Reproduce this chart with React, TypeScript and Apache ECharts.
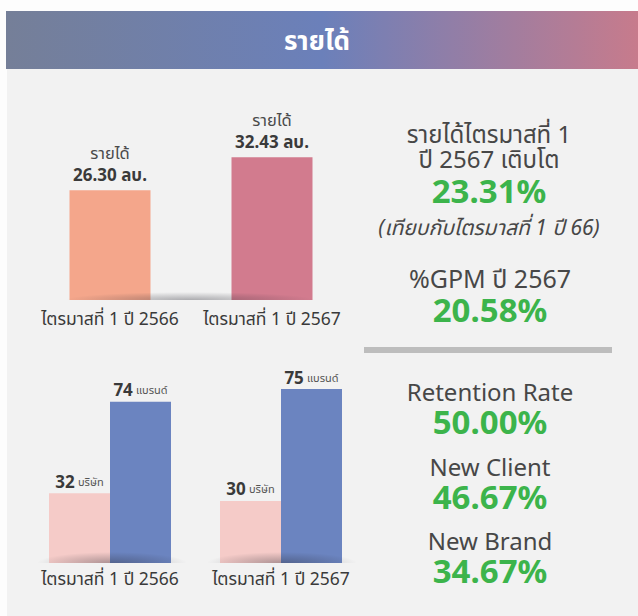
import React, { useEffect, useRef } from "react";
import * as echarts from "echarts";

const headerTitle = "รายได้";
const revenueCategories = ["ไตรมาสที่ 1 ปี 2566", "ไตรมาสที่ 1 ปี 2567"];
const revenueValues = [26.3, 32.43];
const revenueColors = ["#f4a68b", "#d27b8e"];
const revenueLabelTitle = "รายได้";
const revenueUnit = "ลบ.";

const clientQuarters = ["ไตรมาสที่ 1 ปี 2566", "ไตรมาสที่ 1 ปี 2567"];
const clientCounts = [32, 30];
const brandCounts = [74, 75];
const clientUnit = "บริษัท";
const brandUnit = "แบรนด์";

const growthLines = ["รายได้ไตรมาสที่ 1", "ปี 2567 เติบโต"];
const growthValue = "23.31%";
const growthNote = "(เทียบกับไตรมาสที่ 1 ปี 66)";
const gpmTitle = "%GPM ปี 2567";
const gpmValue = "20.58%";
const kpiTitles = ["Retention Rate", "New Client", "New Brand"];
const kpiValues = ["50.00%", "46.67%", "34.67%"];

const FONT = "'Noto Sans', 'Noto Sans Thai', sans-serif";
const GREEN = "#3cb44b";
const TEXT = "#474747";

function shadow(cx: number, baseY: number, w: number, h: number, alpha: number) {
  const size = w;
  return {
    type: "rect",
    x: cx - w / 2,
    y: baseY - h,
    scaleY: h / size,
    z: 50,
    silent: true,
    shape: { x: 0, y: 0, width: w, height: size },
    style: {
      fill: {
        type: "radial",
        x: 0.5,
        y: 1,
        r: 0.5,
        colorStops: [
          { offset: 0, color: `rgba(40,40,50,${alpha})` },
          { offset: 1, color: "rgba(40,40,50,0)" },
        ],
      },
    },
  };
}

const richStyles = {
  t: { fontSize: 24, fill: TEXT, fontFamily: FONT, lineHeight: 25, align: "center" },
  t2: { fontSize: 25, fill: TEXT, fontFamily: FONT, lineHeight: 30, align: "center" },
  k: { fontSize: 24, fill: TEXT, fontFamily: FONT, lineHeight: 28, align: "center" },
  g: { fontSize: 33, fill: GREEN, fontWeight: "bold", fontFamily: FONT, lineHeight: 39, align: "center" },
  v: { fontSize: 33, fill: GREEN, fontWeight: "bold", fontFamily: FONT, lineHeight: 32, align: "center" },
  n: { fontSize: 21, fill: TEXT, fontStyle: "italic", fontFamily: FONT, lineHeight: 35, align: "center" },
};

function block(text: string, x: number, top: number) {
  return {
    type: "text",
    x,
    y: top,
    z: 60,
    style: {
      text,
      rich: richStyles,
      textAlign: "center",
      textVerticalAlign: "top",
    },
  };
}

export default function App() {
  const ref = useRef<HTMLDivElement>(null);
  useEffect(() => {
    const chart = echarts.init(ref.current!, null, { renderer: "svg" });
    const catAxis = (gridIndex: number, data: string[], margin: number) => ({
      type: "category",
      gridIndex,
      data,
      axisLine: { show: false },
      axisTick: { show: false },
      axisLabel: { color: "#3a3a3a", fontSize: 17.5, fontFamily: FONT, margin, interval: 0 },
    });
    const valAxis = (gridIndex: number, min: number, max: number) => ({
      type: "value",
      gridIndex,
      min,
      max,
      show: false,
      splitLine: { show: false },
    });
    const countLabel = (unit: string) => ({
      show: true,
      position: "top",
      distance: 2,
      formatter: (p: any) => `{n|${p.value}} {u|${unit}}`,
      rich: {
        n: { fontSize: 17, fontWeight: "bold", color: "#3a3a3a", fontFamily: FONT, lineHeight: 20 },
        u: { fontSize: 11, color: "#555", fontFamily: FONT, lineHeight: 20 },
      },
    });

    const option: any = {
      animation: false,
      backgroundColor: "#fdfdfd",
      textStyle: { fontFamily: FONT },
      grid: [
        { left: 29, width: 324, top: 100, height: 200 },
        { left: 49, width: 122, top: 345, height: 218 },
        { left: 220, width: 122, top: 327, height: 236 },
      ],
      xAxis: [
        catAxis(0, revenueCategories, 9),
        catAxis(1, [clientQuarters[0]], 6),
        catAxis(2, [clientQuarters[1]], 6),
      ],
      yAxis: [valAxis(0, 6, 43), valAxis(1, 0, 100), valAxis(2, 5, 100)],
      series: [
        {
          type: "bar",
          xAxisIndex: 0,
          yAxisIndex: 0,
          barWidth: 81,
          data: revenueValues.map((v, i) => ({ value: v, itemStyle: { color: revenueColors[i] } })),
          label: {
            show: true,
            position: "top",
            distance: 5,
            formatter: (p: any) => `{t|${revenueLabelTitle}}\n{v|${Number(p.value).toFixed(2)} ${revenueUnit}}`,
            rich: {
              t: { fontSize: 16.5, color: "#4a4a4a", fontFamily: FONT, lineHeight: 22, align: "center" },
              v: { fontSize: 17, fontWeight: "bold", color: "#3a3a3a", fontFamily: FONT, lineHeight: 22, align: "center" },
            },
          },
        },
        ...[0, 1].flatMap((i) => [
          {
            type: "bar",
            xAxisIndex: i + 1,
            yAxisIndex: i + 1,
            barWidth: 61,
            barGap: "0%",
            data: [clientCounts[i]],
            itemStyle: { color: "#f5cbc8" },
            label: countLabel(clientUnit),
          },
          {
            type: "bar",
            xAxisIndex: i + 1,
            yAxisIndex: i + 1,
            barWidth: 61,
            barGap: "0%",
            data: [brandCounts[i]],
            itemStyle: { color: "#6b84c0" },
            label: countLabel(brandUnit),
          },
        ]),
      ],
      graphic: [
        {
          type: "rect",
          z: -10,
          silent: true,
          shape: { x: 7, y: 69, width: 631, height: 547 },
          style: { fill: "#f2f2f2" },
        },
        {
          type: "rect",
          z: -5,
          silent: true,
          shape: { x: 6, y: 11, width: 632, height: 58 },
          style: {
            fill: {
              type: "linear",
              x: 0,
              y: 0,
              x2: 1,
              y2: 0,
              colorStops: [
                { offset: 0, color: "#757f98" },
                { offset: 0.5, color: "#6b80ba" },
                { offset: 1, color: "#c77b8c" },
              ],
            },
          },
        },
        {
          type: "text",
          x: 317,
          y: 40,
          z: 60,
          style: {
            text: headerTitle,
            fill: "#ffffff",
            font: `bold 26px ${FONT}`,
            textAlign: "center",
            textVerticalAlign: "middle",
          },
        },
        shadow(190, 300, 250, 16, 0.35),
        shadow(112, 563, 150, 22, 0.35),
        shadow(282, 563, 150, 22, 0.35),
        {
          type: "rect",
          z: 5,
          silent: true,
          shape: { x: 364, y: 347, width: 248, height: 6 },
          style: { fill: "#bdbdbd" },
        },
        block(
          `{t|${growthLines[0]}}\n{t|${growthLines[1]}}\n{g|${growthValue}}\n{n|${growthNote}}`,
          489,
          120.5
        ),
        block(`{t2|${gpmTitle}}\n{v|${gpmValue}}`, 490, 263),
        ...kpiTitles.map((t, i) => block(`{k|${t}}\n{v|${kpiValues[i]}}`, 490, [377, 452, 526][i])),
      ],
    };
    chart.setOption(option);
    return () => chart.dispose();
  }, []);
  return (
    <div
      ref={ref}
      style={{ position: "fixed", left: 0, top: 0, width: 638, height: 616 }}
    />
  );
}
